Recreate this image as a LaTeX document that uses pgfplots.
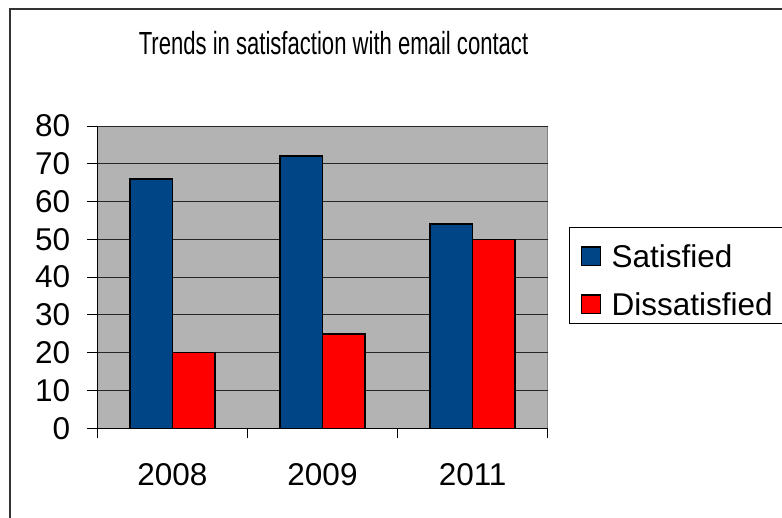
\documentclass[border=0pt]{standalone}
\usepackage{fontspec}
\setmainfont{Liberation Sans}
\newfontfamily\titlefont[FakeStretch=0.69]{Liberation Sans}
\usepackage{pgfplots}
\pgfplotsset{compat=1.18}
\definecolor{satblue}{RGB}{0,69,134}
\definecolor{disred}{RGB}{255,0,0}
\definecolor{plotgray}{RGB}{179,179,179}

\begin{document}
\begin{tikzpicture}[x=1pt,y=1pt]
\useasboundingbox (0,0) rectangle (782,517);
\clip (0,0) rectangle (782,517);
\fill[white] (0,0) rectangle (782,517);
% outer chart frame
\draw[line width=2pt, black!80] (10,-20) -- (10,508) -- (800,508);
% legend frame
\draw[line width=1pt, black] (800,289) -- (569,289) -- (569,193) -- (800,193);
\begin{axis}[
  at={(97.3pt,88.7pt)}, anchor=south west,
  scale only axis, width=450.4pt, height=302.3pt,
  xmin=-0.5, xmax=2.5, ymin=0, ymax=80,
  axis lines=left, axis line style={-, black, line width=1pt},
  axis background/.style={fill=plotgray, draw=gray, line width=1pt},
  ytick={0,10,...,80},
  xtick={0,1,2}, xticklabels={2008,2009,2011},
  minor xtick={-0.5,0.5,1.5,2.5},
  tick align=outside,
  major tick length=10pt, minor tick length=10pt,
  major x tick style={draw=none},
  tick style={black, line width=1pt},
  ymajorgrids, grid style={black!85, line width=1pt},
  /pgf/number format/assume math mode=true,
  yticklabel style={font=\fontsize{31.5}{36}\selectfont, anchor=east, inner sep=0pt, xshift=-17pt},
  xticklabel style={font=\fontsize{31.5}{36}\selectfont, anchor=north, inner sep=0pt, yshift=-25pt},
  title={Trends in satisfaction with email contact},
  title style={at={(0.5244,1.218)}, anchor=base, inner sep=0pt,
    font=\fontsize{32}{38}\selectfont\titlefont},
  ybar=0pt, bar width=42.5pt,
  legend image code/.code={\draw[#1, line width=1.5pt] (0pt,-9.3pt) rectangle (18.6pt,9.3pt);},
  legend cell align=left,
  legend style={at={(1.0473,0.608)}, anchor=north west, draw=none, fill=none,
    inner xsep=11.7pt, inner ysep=0pt, row sep=25pt,
    nodes={inner sep=0pt, text height=23pt, text depth=0pt, font=\fontsize{31.5}{36}\selectfont},
    /tikz/every odd column/.append style={column sep=10.7pt}},
]
\addplot[fill=satblue, draw=black, line width=1.5pt] coordinates {(0,66) (1,72) (2,54)};
\addplot[fill=disred, draw=black, line width=1.5pt] coordinates {(0,20) (1,25) (2,50)};
\legend{Satisfied, Dissatisfied}
\end{axis}
\end{tikzpicture}
\end{document}
